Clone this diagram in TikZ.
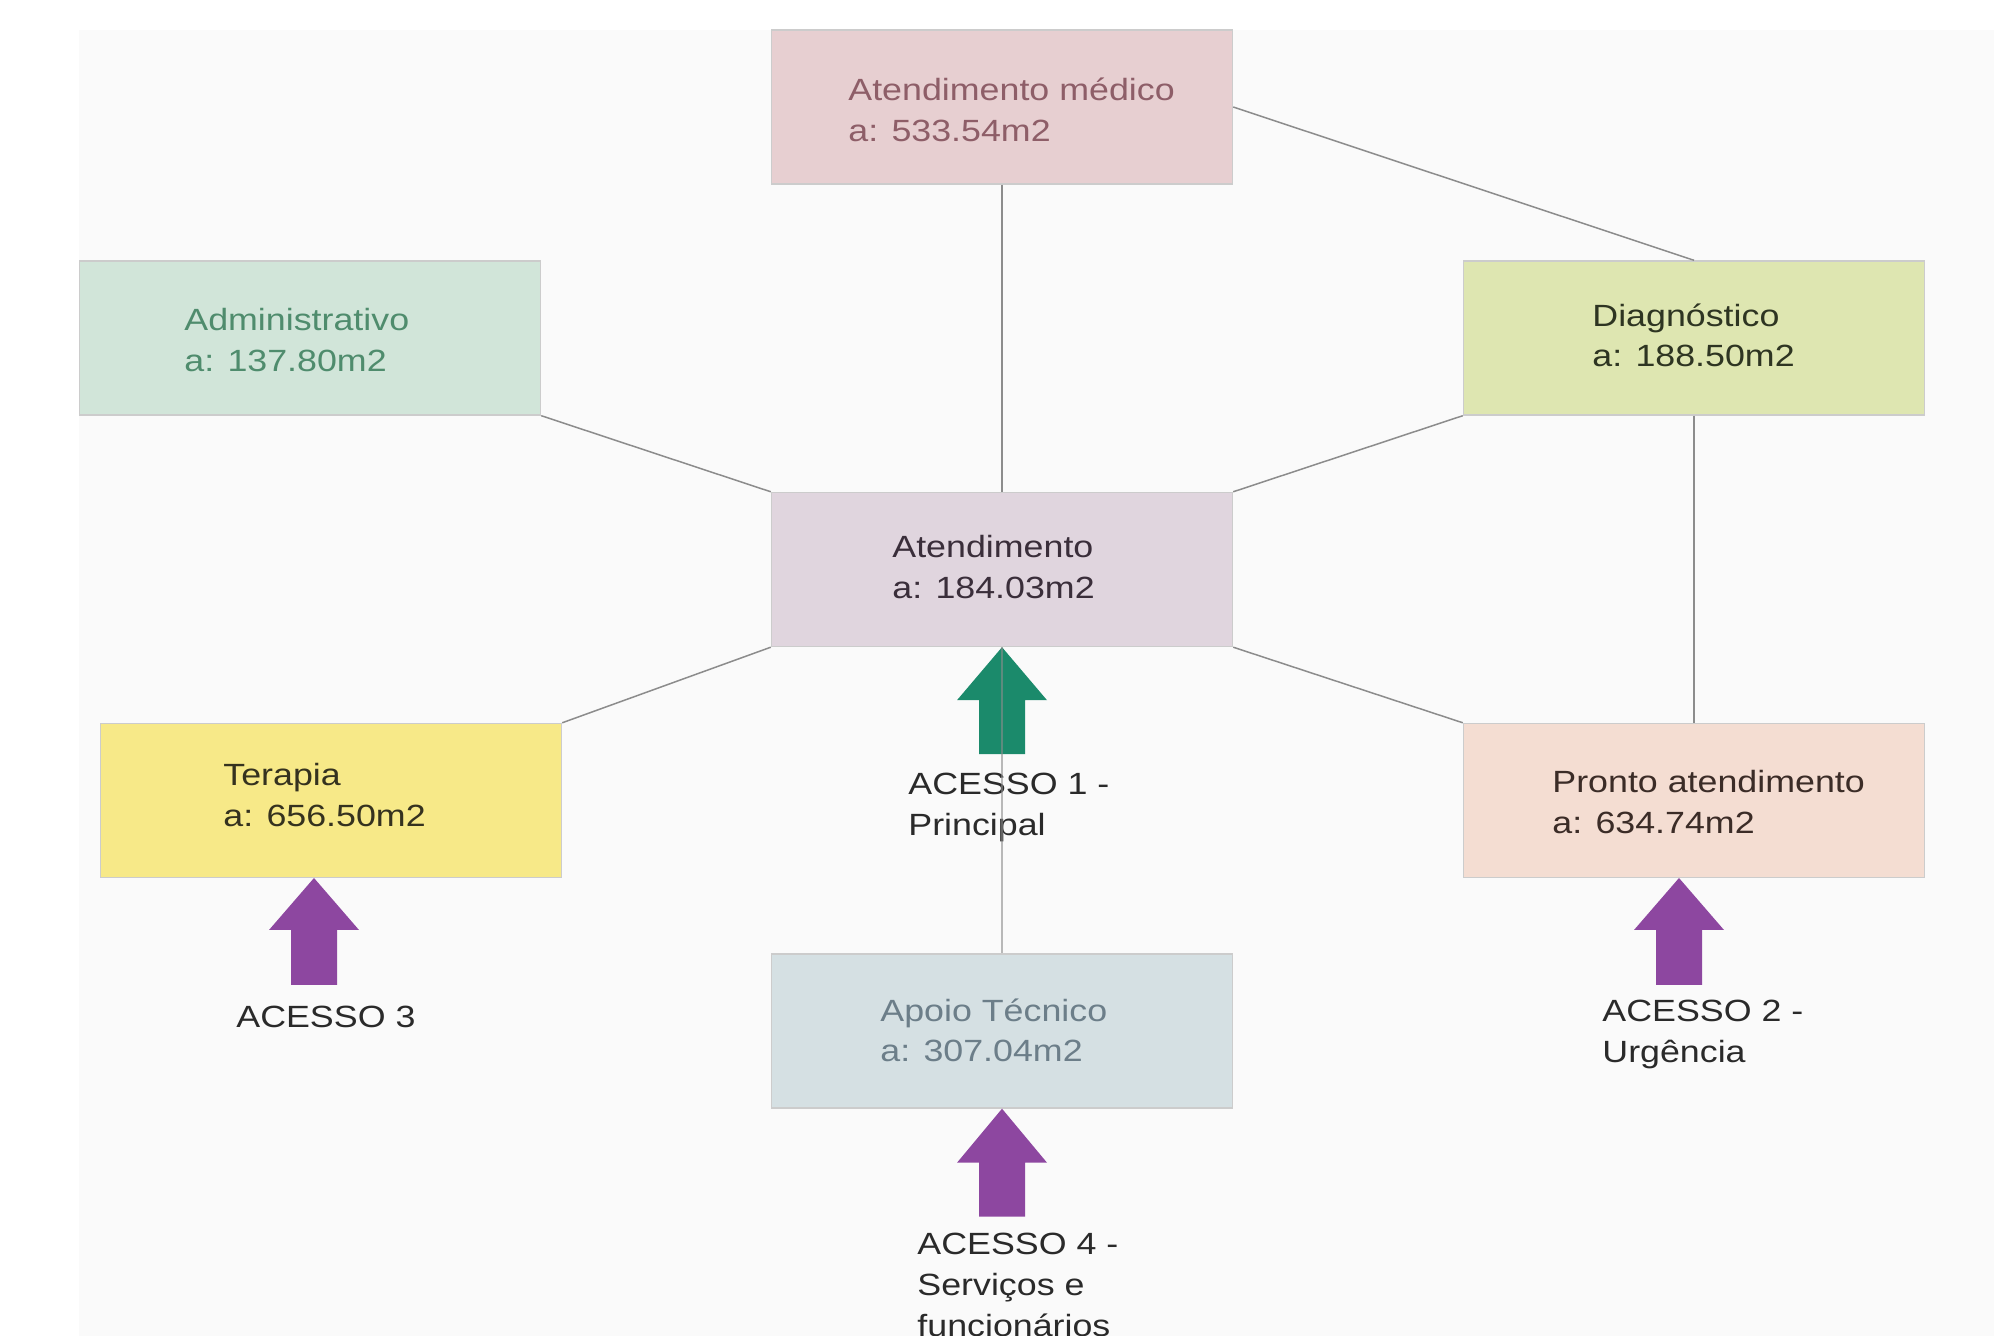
\documentclass[tikz,border=0pt]{standalone}
\usepackage{fontspec}
\setmainfont{Liberation Sans}[FakeStretch=1.166]
\begin{document}
\begin{tikzpicture}[x=0.5pt,y=-0.5pt,
  box/.style={rectangle, draw=black!20, line width=0.7pt, minimum width=230.5pt, minimum height=77pt, inner sep=0pt},
  txt/.style={anchor=north west, inner sep=0pt, align=left, font=\fontsize{15.35}{20.3}\selectfont},
  conn/.style={draw=black!45, line width=0.75pt},
  greenarrow/.style={fill=accgreen},
  purplearrow/.style={fill=accpurple}]
\definecolor{bgc}{HTML}{FAFAFA}
\definecolor{accgreen}{HTML}{1B8A6B}
\definecolor{accpurple}{HTML}{8D47A0}
\definecolor{medfill}{HTML}{E7CFD1}
\definecolor{admfill}{HTML}{D1E5D9}
\definecolor{diafill}{HTML}{DEE6B1}
\definecolor{atdfill}{HTML}{E0D5DE}
\definecolor{terfill}{HTML}{F7E988}
\definecolor{profill}{HTML}{F4DDD2}
\definecolor{apofill}{HTML}{D5E0E3}
\definecolor{medtxt}{HTML}{8E5E68}
\definecolor{admtxt}{HTML}{4F8C6D}
\definecolor{diatxt}{HTML}{2E3522}
\definecolor{atdtxt}{HTML}{3A2E3A}
\definecolor{tertxt}{HTML}{35321F}
\definecolor{protxt}{HTML}{3B2C27}
\definecolor{apotxt}{HTML}{6C7E89}
\definecolor{labtxt}{HTML}{2A2A2A}
\useasboundingbox (0,0) rectangle (1994,1336);
\fill[white] (0,0) rectangle (1994,1336);
\fill[bgc] (79,30) rectangle (1994,1336);

% boxes
\node[box, fill=medfill] (med) at (1002,107) {};
\node[box, fill=admfill] (adm) at (310,338) {};
\node[box, fill=diafill] (dia) at (1694,338) {};
\node[box, fill=atdfill] (atd) at (1002,569.5) {};
\node[box, fill=terfill] (ter) at (331,800.5) {};
\node[box, fill=profill] (pro) at (1694,800.5) {};
\node[box, fill=apofill] (apo) at (1002,1031) {};

% box texts
\node[txt, text=medtxt] (medt) at (848,78) {Atendimento médico\\a: 533.54m2};
\node[txt, text=admtxt] (admt) at (184,308) {Administrativo\\a: 137.80m2};
\node[txt, text=diatxt] (diat) at (1592,303) {Diagnóstico\\a: 188.50m2};
\node[txt, text=atdtxt] (atdt) at (892,535) {Atendimento\\a: 184.03m2};
\node[txt, text=tertxt] (tert) at (223,763) {Terapia\\a: 656.50m2};
\node[txt, text=protxt] (prot) at (1552,770) {Pronto atendimento\\a: 634.74m2};
\node[txt, text=apotxt] (apot) at (880,998) {Apoio Técnico\\a: 307.04m2};

% connectors
\draw[conn] (med.south) -- (atd.north);
\draw[conn] (med.east) -- (dia.north);
\draw[conn] (adm.south east) -- (atd.north west);
\draw[conn] (dia.south west) -- (atd.north east);
\draw[conn] (atd.south west) -- (ter.north east);
\draw[conn] (atd.south east) -- (pro.north west);
\draw[conn] (dia.south) -- (pro.north);

% access arrows
\coordinate (t1) at (atd.south);
\coordinate (t4) at (apo.south);
\coordinate (t3) at (314,878);
\coordinate (t2) at (1679,878);
\fill[greenarrow] (t1) -- ++(45,53) -- ++(-22,0) -- ++(0,54) -- ++(-46,0) -- ++(0,-54) -- ++(-22,0) -- cycle;
\fill[purplearrow] (t3) -- ++(45,52) -- ++(-22,0) -- ++(0,55) -- ++(-46,0) -- ++(0,-55) -- ++(-22,0) -- cycle;
\fill[purplearrow] (t2) -- ++(45,52) -- ++(-22,0) -- ++(0,55) -- ++(-46,0) -- ++(0,-55) -- ++(-22,0) -- cycle;
\fill[purplearrow] (t4) -- ++(45,54) -- ++(-22,0) -- ++(0,54) -- ++(-46,0) -- ++(0,-54) -- ++(-22,0) -- cycle;

% access labels
\node[txt, text=labtxt] (l1) at (908,773) {ACESSO 1 -\\Principal};
\node[txt, text=labtxt] (l3) at (236,1006) {ACESSO 3};
\node[txt, text=labtxt] (l2) at (1602,1000) {ACESSO 2 -\\Urgência};
\node[txt, text=labtxt] (l4) at (917,1233) {ACESSO 4 -\\Serviços e\\funcionários};

% line through the main access
\draw[conn, draw opacity=0.6] (atd.south) -- (apo.north);
\end{tikzpicture}
\end{document}
